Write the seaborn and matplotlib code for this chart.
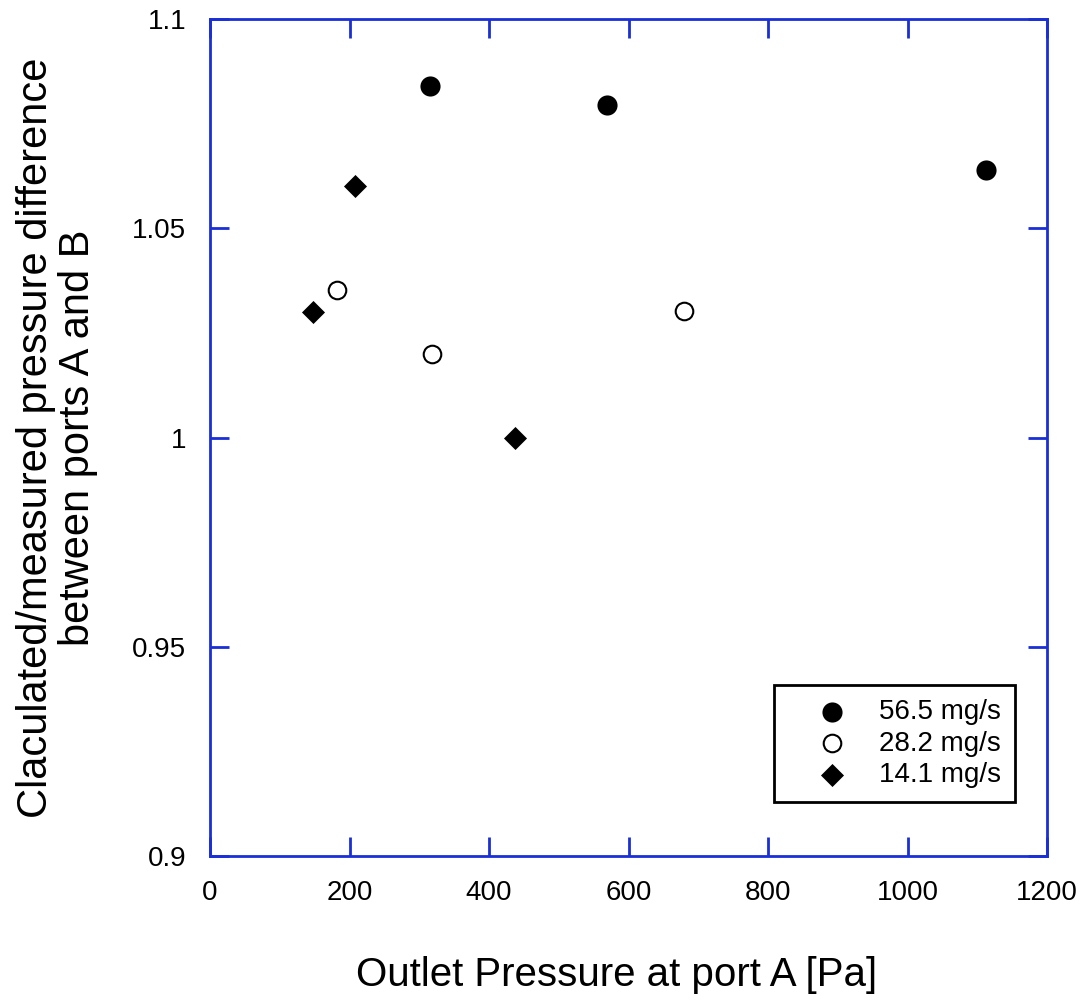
import matplotlib
matplotlib.use("Agg")
import matplotlib.pyplot as plt
import seaborn as sns
import pandas as pd

series_labels = ["56.5 mg/s", "28.2 mg/s", "14.1 mg/s"]
x_565 = [315, 569, 1112]
y_565 = [1.084, 1.0794, 1.0639]
x_282 = [182, 318, 680]
y_282 = [1.0352, 1.020, 1.0302]
x_141 = [148, 208, 437]
y_141 = [1.030, 1.060, 1.000]

x_ticks = [0, 200, 400, 600, 800, 1000, 1200]
y_ticks = [0.9, 0.95, 1.0, 1.05, 1.1]
y_tick_labels = ["0.9", "0.95", "1", "1.05", "1.1"]

sns.set_theme(style="white")
plt.rcParams['font.family'] = ['Liberation Sans', 'DejaVu Sans']
plt.rcParams['text.color'] = 'black'
plt.rcParams['axes.labelcolor'] = 'black'

fig = plt.figure(figsize=(10.81, 10.01), dpi=100)
ax = fig.add_axes([210/1081, 1 - 856/1001, 837/1081, 837/1001])

blue = "#1a2fd6"
sns.scatterplot(x=x_565, y=y_565, ax=ax, marker="o", s=210, color="black",
                edgecolor="black", linewidth=0, label=series_labels[0], zorder=3)
sns.scatterplot(x=x_282, y=y_282, ax=ax, marker="o", s=160, facecolor="white",
                edgecolor="black", linewidth=1.5, label=series_labels[1], zorder=3)
sns.scatterplot(x=x_141, y=y_141, ax=ax, marker="D", s=138, color="black",
                edgecolor="black", linewidth=0, label=series_labels[2], zorder=3)

ax.set_xlim(0, 1200)
ax.set_ylim(0.9, 1.1)
ax.set_xticks(x_ticks)
ax.set_xticklabels([str(t) for t in x_ticks])
ax.set_yticks(y_ticks)
ax.set_yticklabels(y_tick_labels)

for sp in ax.spines.values():
    sp.set_color(blue)
    sp.set_linewidth(2)
    sp.set_visible(True)

ax.tick_params(axis="both", which="major", direction="in", length=14, width=2,
               color=blue, top=True, right=True, bottom=True, left=True,
               labelsize=20, labelcolor="black")
ax.tick_params(axis="x", pad=17)
ax.tick_params(axis="y", pad=17)

ax.set_xlabel("Outlet Pressure at port A [Pa]", fontsize=29, labelpad=36)
ax.xaxis.label.set_x((617 - 210) / 837)
ax.set_ylabel("Claculated/measured pressure difference\nbetween ports A and B",
              fontsize=30, labelpad=25, linespacing=1.05)

leg = ax.legend(loc="lower right", bbox_to_anchor=(1015/1081, 1 - 802/1001),
                bbox_transform=fig.transFigure, frameon=True, fancybox=False,
                framealpha=1, fontsize=20, handlelength=3.2, handletextpad=0.1,
                borderpad=0.5, labelspacing=0.2, borderaxespad=0)
leg.get_frame().set_edgecolor("black")
leg.get_frame().set_linewidth(2)

fig.savefig("out.png", dpi=100, facecolor="white")
